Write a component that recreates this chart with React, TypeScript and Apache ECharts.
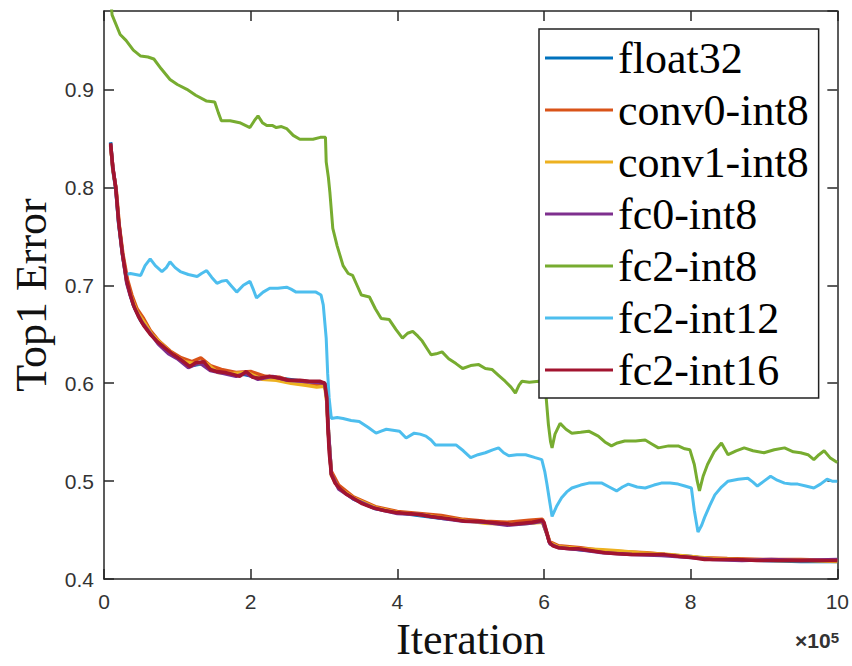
import React, { useEffect, useRef } from "react";
import * as echarts from "echarts";

const seriesNames = ["float32", "conv0-int8", "conv1-int8", "fc0-int8", "fc2-int8", "fc2-int12", "fc2-int16"];
const seriesColors = ["#0072BD", "#D95319", "#EDB120", "#7E2F8E", "#77AC30", "#4DBEEE", "#A2142F"];

const xTicks = [0, 2, 4, 6, 8, 10];
const yTicks = [0.4, 0.5, 0.6, 0.7, 0.8, 0.9];

// x in units of 1e5 iterations, y = Top1 error
const float32 = [
  [0.09, 0.846], [0.12, 0.818], [0.16, 0.799], [0.2, 0.763], [0.25, 0.732], [0.31, 0.704], [0.36, 0.690], [0.4, 0.680],
  [0.5, 0.664], [0.63, 0.651], [0.75, 0.641], [0.9, 0.631], [1.05, 0.623], [1.2, 0.618], [1.35, 0.620], [1.5, 0.613],
  [1.7, 0.610], [1.9, 0.609], [2.1, 0.606], [2.3, 0.606], [2.5, 0.604], [2.7, 0.602], [2.9, 0.601], [3.01, 0.600],
  [3.04, 0.584], [3.06, 0.550], [3.1, 0.508], [3.2, 0.494], [3.4, 0.482], [3.7, 0.472], [4.0, 0.468], [4.3, 0.465],
  [4.6, 0.462], [4.9, 0.460], [5.2, 0.458], [5.5, 0.456], [5.8, 0.457], [5.98, 0.459], [6.04, 0.446], [6.08, 0.437],
  [6.2, 0.433], [6.5, 0.430], [6.8, 0.428], [7.2, 0.426], [7.6, 0.425], [8.0, 0.423], [8.2, 0.421], [8.6, 0.420],
  [9.0, 0.419], [9.5, 0.418], [10.0, 0.418]
];
const conv0 = [
  [0.09, 0.842], [0.13, 0.815], [0.17, 0.795], [0.21, 0.760], [0.26, 0.731], [0.32, 0.706], [0.38, 0.690], [0.45, 0.676],
  [0.54, 0.666], [0.63, 0.654], [0.75, 0.643], [0.9, 0.633], [1.05, 0.626], [1.2, 0.622], [1.32, 0.626], [1.45, 0.618],
  [1.6, 0.614], [1.8, 0.611], [2.0, 0.612], [2.2, 0.607], [2.4, 0.606], [2.6, 0.601], [2.8, 0.598], [2.95, 0.599],
  [3.02, 0.598], [3.04, 0.580], [3.06, 0.548], [3.1, 0.510], [3.2, 0.496], [3.4, 0.484], [3.7, 0.474], [4.0, 0.469],
  [4.3, 0.467], [4.6, 0.465], [4.9, 0.461], [5.2, 0.459], [5.5, 0.458], [5.8, 0.460], [5.98, 0.461], [6.04, 0.447],
  [6.08, 0.438], [6.2, 0.434], [6.5, 0.432], [6.8, 0.429], [7.1, 0.428], [7.4, 0.427], [7.8, 0.424], [8.1, 0.422],
  [8.5, 0.421], [9.0, 0.420], [9.5, 0.420], [10.0, 0.419]
];
const conv1 = [
  [0.09, 0.843], [0.12, 0.819], [0.16, 0.801], [0.2, 0.766], [0.25, 0.734], [0.31, 0.703], [0.37, 0.688], [0.45, 0.673],
  [0.55, 0.662], [0.65, 0.650], [0.8, 0.639], [0.95, 0.629], [1.1, 0.622], [1.25, 0.620], [1.4, 0.620], [1.55, 0.611],
  [1.75, 0.610], [1.95, 0.611], [2.15, 0.604], [2.35, 0.603], [2.55, 0.600], [2.75, 0.598], [2.9, 0.596], [3.01, 0.597],
  [3.04, 0.580], [3.06, 0.552], [3.1, 0.506], [3.2, 0.493], [3.4, 0.483], [3.7, 0.473], [4.0, 0.468], [4.3, 0.466],
  [4.6, 0.463], [4.9, 0.460], [5.2, 0.457], [5.5, 0.456], [5.8, 0.457], [5.98, 0.458], [6.04, 0.446], [6.08, 0.437],
  [6.2, 0.433], [6.5, 0.431], [6.8, 0.430], [7.0, 0.429], [7.3, 0.427], [7.7, 0.425], [8.0, 0.423], [8.3, 0.421],
  [8.7, 0.420], [9.2, 0.419], [9.6, 0.419], [10.0, 0.418]
];
const fc0 = [
  [0.09, 0.844], [0.12, 0.821], [0.16, 0.800], [0.2, 0.764], [0.25, 0.733], [0.31, 0.702], [0.36, 0.689], [0.42, 0.676],
  [0.52, 0.662], [0.62, 0.652], [0.74, 0.640], [0.88, 0.630], [1.0, 0.625], [1.15, 0.616], [1.3, 0.621], [1.45, 0.613],
  [1.62, 0.610], [1.8, 0.607], [1.92, 0.610], [2.1, 0.604], [2.3, 0.607], [2.5, 0.603], [2.7, 0.602], [2.9, 0.601],
  [3.01, 0.600], [3.04, 0.583], [3.06, 0.552], [3.1, 0.507], [3.2, 0.492], [3.4, 0.482], [3.7, 0.472], [4.0, 0.467],
  [4.3, 0.466], [4.6, 0.462], [4.9, 0.459], [5.2, 0.458], [5.5, 0.455], [5.8, 0.457], [5.98, 0.459], [6.04, 0.446],
  [6.08, 0.436], [6.2, 0.432], [6.5, 0.430], [6.8, 0.427], [7.2, 0.425], [7.6, 0.424], [8.0, 0.422], [8.3, 0.420],
  [8.7, 0.419], [9.1, 0.420], [9.5, 0.419], [10.0, 0.420]
];
const fc2int8 = [
  [0.1, 0.985], [0.11, 0.976], [0.22, 0.956], [0.3, 0.950], [0.4, 0.940], [0.5, 0.934], [0.6, 0.933], [0.68, 0.931],
  [0.78, 0.921], [0.9, 0.910], [1.0, 0.905], [1.13, 0.900], [1.25, 0.894], [1.4, 0.888], [1.51, 0.887], [1.56, 0.876],
  [1.6, 0.868], [1.72, 0.868], [1.85, 0.866], [1.99, 0.861], [2.05, 0.868], [2.1, 0.873], [2.16, 0.866], [2.22, 0.863],
  [2.3, 0.863], [2.35, 0.861], [2.42, 0.862], [2.49, 0.86], [2.58, 0.853], [2.67, 0.849], [2.76, 0.849], [2.85, 0.849],
  [2.95, 0.851], [3.02, 0.851], [3.03, 0.826], [3.06, 0.81], [3.08, 0.795], [3.12, 0.758], [3.18, 0.74], [3.26, 0.72],
  [3.33, 0.712], [3.39, 0.71], [3.45, 0.7], [3.51, 0.69], [3.62, 0.688], [3.7, 0.676], [3.78, 0.666], [3.89, 0.665],
  [3.98, 0.655], [4.07, 0.646], [4.14, 0.651], [4.21, 0.653], [4.28, 0.648], [4.34, 0.643], [4.4, 0.636], [4.46, 0.629],
  [4.53, 0.63], [4.61, 0.632], [4.7, 0.625], [4.8, 0.62], [4.89, 0.615], [5.0, 0.618], [5.11, 0.619], [5.2, 0.615],
  [5.29, 0.614], [5.38, 0.608], [5.47, 0.602], [5.55, 0.596], [5.61, 0.59], [5.66, 0.598], [5.7, 0.602], [5.8, 0.601],
  [5.93, 0.602], [6.0, 0.598], [6.03, 0.585], [6.06, 0.558], [6.09, 0.54], [6.11, 0.534], [6.15, 0.548], [6.22, 0.559],
  [6.3, 0.553], [6.38, 0.549], [6.5, 0.55], [6.61, 0.551], [6.74, 0.546], [6.83, 0.54], [6.92, 0.536], [7.0, 0.539],
  [7.1, 0.541], [7.25, 0.541], [7.38, 0.542], [7.47, 0.538], [7.56, 0.534], [7.7, 0.536], [7.83, 0.536], [7.92, 0.533],
  [7.99, 0.532], [8.05, 0.517], [8.09, 0.5], [8.12, 0.49], [8.17, 0.505], [8.23, 0.517], [8.32, 0.53], [8.42, 0.539],
  [8.51, 0.527], [8.62, 0.531], [8.73, 0.534], [8.85, 0.531], [9.0, 0.529], [9.14, 0.532], [9.28, 0.534], [9.4, 0.53],
  [9.5, 0.529], [9.6, 0.527], [9.68, 0.522], [9.75, 0.527], [9.82, 0.531], [9.9, 0.524], [10.0, 0.519]
];
const fc2int12 = [
  [0.3, 0.711], [0.36, 0.712], [0.5, 0.71], [0.56, 0.72], [0.63, 0.727], [0.7, 0.72], [0.79, 0.714], [0.85, 0.718],
  [0.9, 0.724], [0.97, 0.718], [1.04, 0.714], [1.15, 0.711], [1.27, 0.709], [1.33, 0.712], [1.4, 0.715], [1.47, 0.708],
  [1.54, 0.702], [1.6, 0.704], [1.67, 0.705], [1.74, 0.699], [1.81, 0.693], [1.9, 0.7], [1.99, 0.704], [2.04, 0.695],
  [2.08, 0.687], [2.17, 0.693], [2.26, 0.697], [2.37, 0.697], [2.49, 0.698], [2.55, 0.696], [2.62, 0.693], [2.75, 0.693],
  [2.89, 0.693], [2.96, 0.69], [2.99, 0.68], [3.03, 0.646], [3.05, 0.61], [3.07, 0.585], [3.1, 0.564], [3.18, 0.565],
  [3.26, 0.564], [3.37, 0.562], [3.48, 0.561], [3.6, 0.555], [3.71, 0.549], [3.78, 0.551], [3.85, 0.553], [3.94, 0.552],
  [4.03, 0.551], [4.12, 0.544], [4.23, 0.549], [4.31, 0.548], [4.39, 0.546], [4.46, 0.542], [4.52, 0.537], [4.65, 0.537],
  [4.8, 0.537], [4.9, 0.531], [5.0, 0.524], [5.1, 0.527], [5.2, 0.529], [5.3, 0.532], [5.38, 0.534], [5.45, 0.529],
  [5.52, 0.526], [5.63, 0.527], [5.75, 0.527], [5.88, 0.524], [5.97, 0.522], [6.01, 0.51], [6.04, 0.497], [6.08, 0.478],
  [6.11, 0.464], [6.17, 0.474], [6.24, 0.483], [6.31, 0.489], [6.38, 0.493], [6.5, 0.496], [6.61, 0.498], [6.7, 0.498],
  [6.79, 0.498], [6.89, 0.494], [6.99, 0.49], [7.07, 0.494], [7.15, 0.497], [7.27, 0.494], [7.38, 0.493], [7.5, 0.496],
  [7.6, 0.498], [7.72, 0.498], [7.83, 0.497], [7.92, 0.495], [8.01, 0.493], [8.05, 0.47], [8.1, 0.448], [8.15, 0.455],
  [8.19, 0.463], [8.26, 0.475], [8.33, 0.486], [8.42, 0.494], [8.51, 0.5], [8.65, 0.502], [8.78, 0.503], [8.85, 0.499],
  [8.91, 0.495], [9.0, 0.5], [9.09, 0.505], [9.18, 0.501], [9.28, 0.498], [9.37, 0.497], [9.46, 0.497], [9.57, 0.495],
  [9.68, 0.493], [9.77, 0.497], [9.86, 0.502], [9.93, 0.5], [10.0, 0.5]
];
const fc2int16 = [
  [0.09, 0.845], [0.12, 0.82], [0.16, 0.8], [0.2, 0.765], [0.25, 0.733], [0.31, 0.705], [0.36, 0.69], [0.4, 0.68],
  [0.47, 0.668], [0.54, 0.659], [0.63, 0.65], [0.72, 0.643], [0.83, 0.636], [0.95, 0.629], [1.05, 0.624], [1.17, 0.617],
  [1.25, 0.621], [1.36, 0.622], [1.45, 0.614], [1.54, 0.612], [1.65, 0.611], [1.76, 0.609], [1.85, 0.607], [1.94, 0.612],
  [2.03, 0.606], [2.12, 0.605], [2.25, 0.607], [2.4, 0.605], [2.52, 0.603], [2.67, 0.603], [2.8, 0.602], [2.94, 0.602],
  [3.01, 0.6], [3.04, 0.585], [3.05, 0.56], [3.07, 0.53], [3.1, 0.507], [3.15, 0.498], [3.21, 0.493], [3.3, 0.487],
  [3.39, 0.483], [3.52, 0.477], [3.66, 0.473], [3.82, 0.47], [3.98, 0.468], [4.15, 0.467], [4.3, 0.466], [4.45, 0.464],
  [4.57, 0.463], [4.75, 0.461], [4.93, 0.459], [5.1, 0.459], [5.25, 0.458], [5.4, 0.457], [5.56, 0.456], [5.7, 0.457],
  [5.84, 0.458], [5.97, 0.46], [6.0, 0.458], [6.04, 0.447], [6.07, 0.438], [6.12, 0.434], [6.2, 0.432], [6.35, 0.431],
  [6.47, 0.431], [6.65, 0.429], [6.83, 0.427], [7.0, 0.426], [7.19, 0.425], [7.4, 0.425], [7.65, 0.425], [7.85, 0.423],
  [8.01, 0.422], [8.1, 0.421], [8.19, 0.42], [8.4, 0.42], [8.64, 0.42], [8.9, 0.419], [9.09, 0.419], [9.3, 0.419],
  [9.55, 0.419], [9.8, 0.419], [10.0, 0.419]
];

const seriesData = [float32, conv0, conv1, fc0, fc2int8, fc2int12, fc2int16];
const seriesWidths = [3.5, 3.5, 3.5, 3.5, 3, 3, 3.5];

const axisColor = "#262626";
const lineStyle = { color: axisColor, width: 1.5 };
const serifFamily = "Liberation Serif";
const sansFamily = "Liberation Sans";
const labelFont = { fontFamily: sansFamily, fontSize: 21, color: "#333" };

export default function App() {
  const ref = useRef<HTMLDivElement>(null);
  useEffect(() => {
    if (!ref.current) return;
    const chart = echarts.init(ref.current, null, { renderer: "svg" });
    const xBase = { type: "value", min: xTicks[0], max: xTicks[xTicks.length - 1], interval: xTicks[1] - xTicks[0], splitLine: { show: false } };
    const yBase = { type: "value", min: yTicks[0], max: 0.98, interval: 0.1, splitLine: { show: false } };
    chart.setOption({
      animation: false,
      backgroundColor: "#ffffff",
      textStyle: { fontFamily: serifFamily },
      title: {
        text: "{x|×}{a|10}{b|5}",
        right: 13,
        top: 630,
        padding: 0,
        textStyle: {
          rich: {
            x: { fontFamily: sansFamily, fontSize: 21, fontWeight: "bold", color: "#333", verticalAlign: "bottom" },
            a: { fontFamily: sansFamily, fontSize: 21, color: "#333", verticalAlign: "bottom" },
            b: { fontFamily: sansFamily, fontSize: 15, color: "#333", verticalAlign: "top" },
          },
        },
      },
      grid: { left: 104, top: 11, width: 736, height: 571, containLabel: false },
      xAxis: [
        {
          ...xBase,
          position: "bottom",
          axisLine: { show: true, onZero: false, lineStyle },
          axisTick: { show: true, inside: true, length: 10, lineStyle },
          axisLabel: { ...labelFont, margin: 12 },
          name: "Iteration",
          nameLocation: "middle",
          nameGap: 31,
          nameTextStyle: { fontFamily: serifFamily, fontSize: 44, color: "#111" },
        },
        {
          ...xBase,
          position: "top",
          axisLine: { show: true, onZero: false, lineStyle },
          axisTick: { show: true, inside: true, length: 10, lineStyle },
          axisLabel: { show: false },
        },
      ],
      yAxis: [
        {
          ...yBase,
          position: "left",
          axisLine: { show: true, onZero: false, lineStyle },
          axisTick: { show: true, inside: true, length: 10, lineStyle },
          axisLabel: { ...labelFont, margin: 10, showMaxLabel: false, formatter: (v: number) => v.toFixed(1) },
          name: "Top1 Error",
          nameLocation: "middle",
          nameGap: 46,
          nameTextStyle: { fontFamily: serifFamily, fontSize: 44, color: "#111" },
        },
        {
          ...yBase,
          position: "right",
          axisLine: { show: true, onZero: false, lineStyle },
          axisTick: { show: true, inside: true, length: 10, lineStyle },
          axisLabel: { show: false },
        },
      ],
      legend: {
        data: seriesNames,
        orient: "vertical",
        left: 539,
        top: 29,
        padding: [7, 10, 6, 6],
        itemGap: 8,
        itemWidth: 68,
        itemHeight: 3,
        icon: "rect",
        backgroundColor: "#ffffff",
        borderColor: "#222",
        borderWidth: 1.5,
        borderRadius: 0,
        selectedMode: false,
        textStyle: { fontFamily: serifFamily, fontSize: 44, lineHeight: 44, color: "#000" },
        z: 10,
      },
      series: seriesNames.map((name, i) => ({
        name,
        type: "line",
        data: seriesData[i],
        xAxisIndex: 0,
        yAxisIndex: 0,
        showSymbol: false,
        symbol: "none",
        clip: true,
        color: seriesColors[i],
        lineStyle: { width: seriesWidths[i], color: seriesColors[i] },
        emphasis: { disabled: true },
      })),
    });
    return () => chart.dispose();
  }, []);
  return <div ref={ref} style={{ position: "fixed", left: 0, top: 0, width: 852, height: 666 }} />;
}
